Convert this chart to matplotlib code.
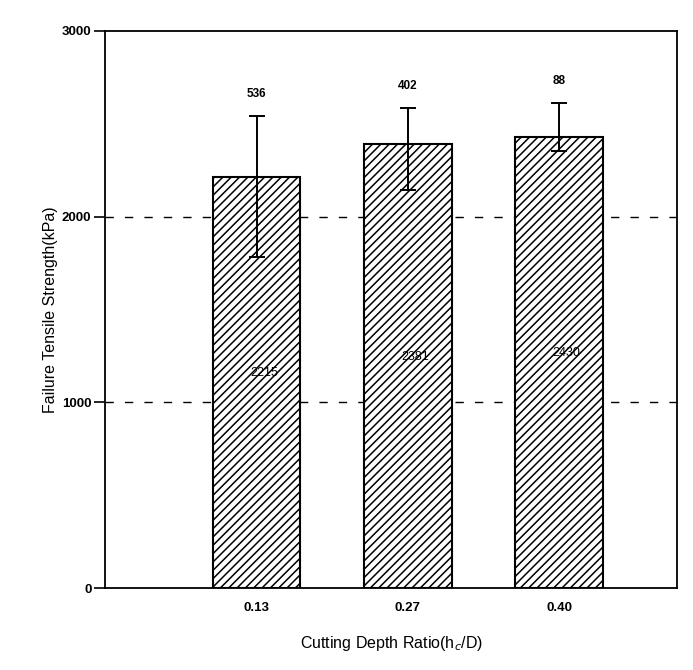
import numpy as np
import matplotlib
matplotlib.use('Agg')
import matplotlib.pyplot as plt

# values
ratios = ['0.13', '0.27', '0.40']
strength = [2215, 2390, 2430]
err_low = [430, 245, 75]
err_high = [325, 195, 180]
mean_labels = ['2215', '2381', '2430']
sd_labels = ['536', '402', '88']

plt.rcParams['font.family'] = ['Liberation Sans', 'DejaVu Sans']
plt.rcParams['hatch.linewidth'] = 1.1

fig = plt.figure(figsize=(6.93, 6.70), dpi=100)
ax = fig.add_axes([0.152, 0.122, 0.825, 0.832])

x = np.arange(len(ratios))

# dashed grid lines behind the bars
for gy in [1000, 2000]:
    ax.axhline(gy, color='black', linestyle=(0, (6, 8)), linewidth=1.0, zorder=0)

ax.bar(x, strength, width=0.58, color='white', edgecolor='black',
       hatch='////', linewidth=1.5, zorder=2)
ax.errorbar(x, strength, yerr=[err_low, err_high], fmt='none', ecolor='black',
            elinewidth=1.4, capsize=6, capthick=1.4, zorder=3)

for xi, h, lo, hi, m, s in zip(x, strength, err_low, err_high, mean_labels, sd_labels):
    ax.text(xi + 0.05, h / 2 + 50, m, ha='center', va='center', fontsize=9, zorder=4)
    ax.text(xi, h + hi + 120, s, ha='center', va='center', fontsize=8.5,
            fontweight='bold', zorder=4)

ax.set_xlim(-1.0, 2.78)
ax.set_ylim(0, 3000)
ax.set_xticks(x)
ax.set_xticklabels(ratios, fontsize=9.5, fontweight='bold')
ax.set_yticks([0, 1000, 2000, 3000])
ax.set_yticklabels(['0', '1000', '2000', '3000'], fontsize=9.5, fontweight='bold')
ax.tick_params(axis='x', length=0, pad=10)
ax.tick_params(axis='y', length=8, width=1.2, direction='out', pad=2)

for sp in ax.spines.values():
    sp.set_linewidth(1.3)

ax.set_xlabel('Cutting Depth Ratio(h$_c$/D)', fontsize=11.5, labelpad=14)
ax.set_ylabel('Failure Tensile Strength(kPa)', fontsize=11.5, labelpad=3)

fig.savefig('out.png', dpi=100)
